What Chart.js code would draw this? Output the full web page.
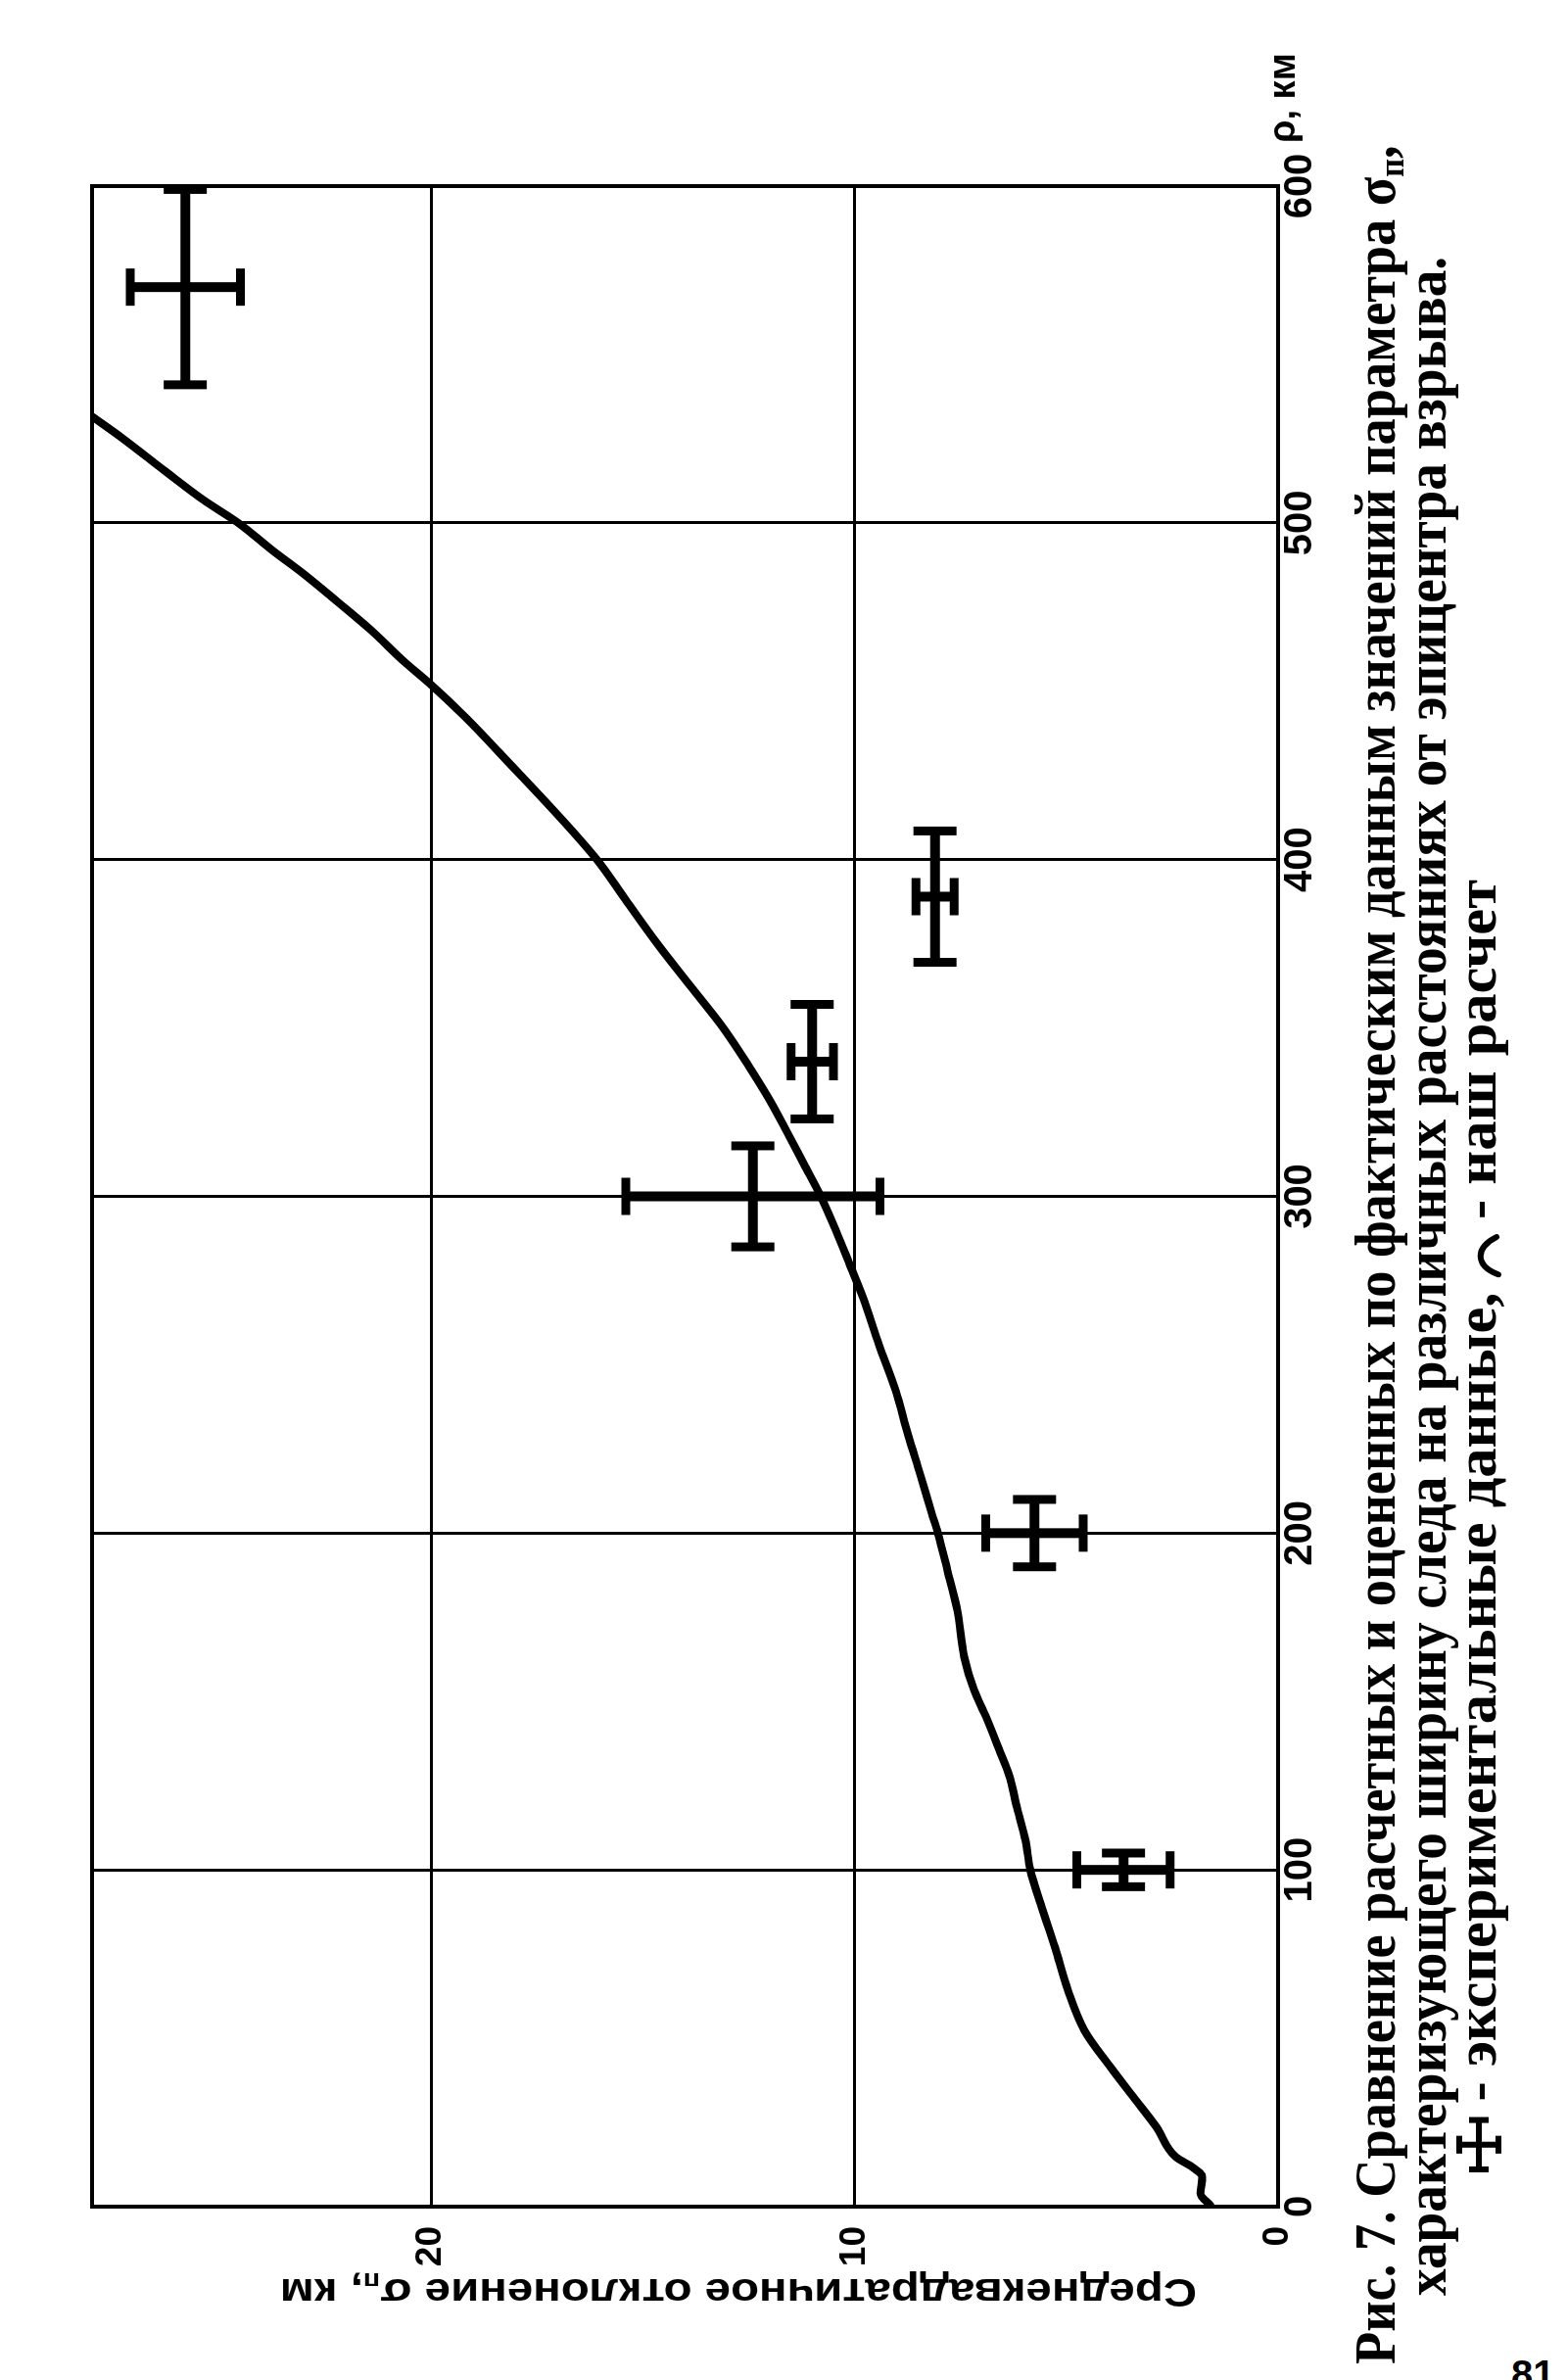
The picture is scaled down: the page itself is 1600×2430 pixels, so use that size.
<!DOCTYPE html>
<html lang="ru">
<head>
<meta charset="utf-8">
<title>Рис. 7</title>
<script src="https://cdn.jsdelivr.net/npm/chart.js@4.4.1/dist/chart.umd.min.js"></script>
<style>
  html, body { margin: 0; padding: 0; background: #fff; }
  body { width: 1600px; height: 2430px; position: relative; overflow: hidden; }
  /* the page is printed sideways: build it landscape, then turn it */
  #sheet {
    position: absolute; left: 0; top: 0;
    width: 2430px; height: 1600px;
    transform-origin: 0 0;
    transform: translateY(2430px) rotate(-90deg);
  }
  #plot { position: absolute; left: 0; top: 0; }
  .cap {
    position: absolute; white-space: nowrap; color: #000;
    font-family: 'Liberation Serif', 'DejaVu Serif', serif;
    font-weight: bold; font-size: 60px; line-height: 60px;
    transform-origin: 0 50%;
  }
  .cap sub, #ytitle sub { font-size: 0.6em; line-height: 0; vertical-align: -0.25em; }
  .ico { vertical-align: -0.12em; }
  #ytitle span {
    position: absolute; left: 0; top: 0; white-space: nowrap; color: #000;
    font-family: 'Liberation Sans', Arial, sans-serif;
    font-weight: bold; font-size: 40px; line-height: 40px;
  }
  #rholabel {
    position: absolute; left: 2284px; top: 1290px; white-space: nowrap;
    font-family: 'Liberation Sans', Arial, sans-serif;
    font-weight: bold; font-size: 38px; line-height: 38px; color: #000;
  }
  #pagenum {
    position: absolute; left: 1543px; top: 2404px;
    font-family: 'Liberation Sans', Arial, sans-serif;
    font-weight: bold; font-size: 40px; line-height: 40px; color: #000;
  }
</style>
</head>
<body>
<div id="sheet">
  <canvas id="plot" width="2430" height="1400"></canvas>
  <div id="ytitle" style="position:absolute;left:89px;top:754px;width:0;height:0;">
    <span>Среднеквадратичное отклонение σ<sub>п</sub>, км</span>
  </div>
  <div id="rholabel">ρ, км</div>
  <div class="cap" id="cap1" style="left:16px;top:1374px;">Рис. 7. Сравнение расчетных и оцененных по фактическим данным значений параметра σ<sub>п</sub>,</div>
  <div class="cap" id="cap2" style="left:86px;top:1426px;">характеризующего ширину следа на различных расстояниях от эпицентра взрыва.</div>
  <div class="cap" id="cap3" style="left:211px;top:1477px;"><svg class="ico" width="58" height="48" viewBox="0 0 58 48"><g stroke="#000" stroke-width="6" fill="none"><line x1="4" y1="24" x2="54" y2="24"/><line x1="4" y1="14" x2="4" y2="34"/><line x1="54" y1="14" x2="54" y2="34"/><line x1="29" y1="4" x2="29" y2="44"/><line x1="20" y1="4" x2="38" y2="4"/><line x1="20" y1="44" x2="38" y2="44"/></g></svg> - экспериментальные данные, <svg class="ico" width="44" height="30" viewBox="0 0 44 30"><path d="M3 26 C 12 2, 30 2, 41 24" stroke="#000" stroke-width="6" fill="none" stroke-linecap="round"/></svg> - наш расчет</div>
</div>
<div id="pagenum">81</div>

<script>
// --- data ---
// calculated curve: distance from epicentre (km) and sigma (km)
const curveRho = [0.4, 3.9, 8.8, 11.8, 14.7, 23.6, 32.6, 41.5, 52.3, 64.2, 77.1, 88.9, 100, 108.6, 118.3,
  128.1, 134.9, 145.6, 153.5, 163.2, 176.9, 188.6, 200, 206, 217.5, 229, 242.4, 255.9, 270.3, 280,
  289.6, 300.1, 309.7, 319.3, 328.8, 338.4, 349.9, 362.4, 374.8, 388.2, 400.3, 432.1, 442.2,
  452.3, 459, 468.2, 476.4, 484.5, 491.8, 500, 506.7, 515.5, 525.2, 531.5];
const curveSigma = [1.6, 1.83, 1.79, 2.03, 2.41, 2.87, 3.42, 3.96, 4.57, 4.96, 5.27, 5.58, 5.85, 5.96, 6.16,
  6.35, 6.56, 6.9, 7.18, 7.41, 7.57, 7.8, 8.03, 8.18, 8.45, 8.73, 9.03, 9.42, 9.81, 10.12,
  10.43, 10.8, 11.2, 11.6, 12.01, 12.48, 13.09, 13.87, 14.64, 15.41, 16.1, 18.41, 19.18,
  20.03, 20.65, 21.42, 22.19, 22.97, 23.74, 24.55, 25.36, 26.29, 27.29, 27.99];

// experimental points with their error bars
const expRho = [100, 200, 300, 340, 389, 570];
const expRhoErr = [5, 10, 15, 17, 19.5, 29];
const expSigma = [3.65, 5.75, 12.4, 11.0, 8.1, 25.8];
const expSigmaErr = [1.1, 1.15, 3.0, 0.5, 0.45, 1.3];

// axes
const rhoTicks = [0, 100, 200, 300, 400, 500, 600];
const sigmaTicks = [0, 10, 20];
const rhoMax = 600;
const sigmaMax = 28;

const ink = '#000';
const xTickFont = { family: "'Liberation Sans', Arial, sans-serif", size: 40, weight: 'bold' };
const yTickFont = { family: "'Liberation Sans', Arial, sans-serif", size: 37, weight: 'bold' };

// --- datasets ---
const datasets = [{
  data: curveRho.map((r, i) => ({ x: r, y: curveSigma[i] })),
  showLine: true,
  borderColor: ink,
  borderWidth: 8,
  borderCapStyle: 'round',
  borderJoinStyle: 'round',
  pointRadius: 0,
  cubicInterpolationMode: 'monotone'
}];

expRho.forEach((r, i) => {
  const bar = {
    showLine: true,
    borderColor: ink,
    borderWidth: 10,
    pointStyle: 'line',
    pointBorderColor: ink,
    pointBackgroundColor: ink,
    pointBorderWidth: 9,
    clip: false
  };
  // spread along the distance, with upright caps
  datasets.push(Object.assign({}, bar, {
    data: [{ x: r - expRhoErr[i], y: expSigma[i] }, { x: r + expRhoErr[i], y: expSigma[i] }],
    pointRotation: 90,
    pointRadius: 22
  }));
  // spread along sigma, with flat caps
  datasets.push(Object.assign({}, bar, {
    data: [{ x: r, y: expSigma[i] - expSigmaErr[i] }, { x: r, y: expSigma[i] + expSigmaErr[i] }],
    pointRotation: 0,
    pointRadius: 19
  }));
});

// closed frame round the plot area
const framePlugin = {
  id: 'frame',
  beforeDatasetsDraw(chart) {
    const { ctx, chartArea: a } = chart;
    ctx.save();
    ctx.strokeStyle = ink;
    ctx.lineWidth = 4;
    ctx.strokeRect(a.left, a.top, a.right - a.left, a.bottom - a.top);
    ctx.restore();
  }
};

new Chart(document.getElementById('plot'), {
  type: 'scatter',
  data: { datasets },
  plugins: [framePlugin],
  options: {
    responsive: false,
    animation: false,
    devicePixelRatio: 1,
    layout: { padding: { left: 0, top: 94, right: 190, bottom: 0 } },
    plugins: { legend: { display: false }, tooltip: { enabled: false } },
    scales: {
      x: {
        type: 'linear',
        min: 0,
        max: rhoMax,
        afterBuildTicks: s => { s.ticks = rhoTicks.map(v => ({ value: v })); },
        afterFit: s => { s.height = 95; },
        ticks: { color: ink, font: xTickFont, padding: -1 },
        grid: { color: ink, lineWidth: 3, drawTicks: false },
        border: { color: ink, width: 4 }
      },
      y: {
        type: 'linear',
        min: 0,
        max: sigmaMax,
        afterBuildTicks: s => { s.ticks = sigmaTicks.map(v => ({ value: v })); },
        afterFit: s => { s.width = 177; },
        ticks: { color: ink, font: yTickFont, padding: 20 },
        grid: { color: ink, lineWidth: 3, drawTicks: false },
        border: { color: ink, width: 4 }
      }
    }
  }
});

// --- stretch caption lines to the printed widths ---
function fitLine(id, target) {
  const el = document.getElementById(id);
  el.style.transform = `scaleX(${target / el.offsetWidth})`;
}
fitLine('cap1', 2266);
fitLine('cap2', 2082);
fitLine('cap3', 1321);

const yt = document.querySelector('#ytitle span');
yt.style.transform = `translate(-50%, -50%) rotate(-90deg) scaleX(${936 / yt.offsetWidth})`;
</script>
</body>
</html>
